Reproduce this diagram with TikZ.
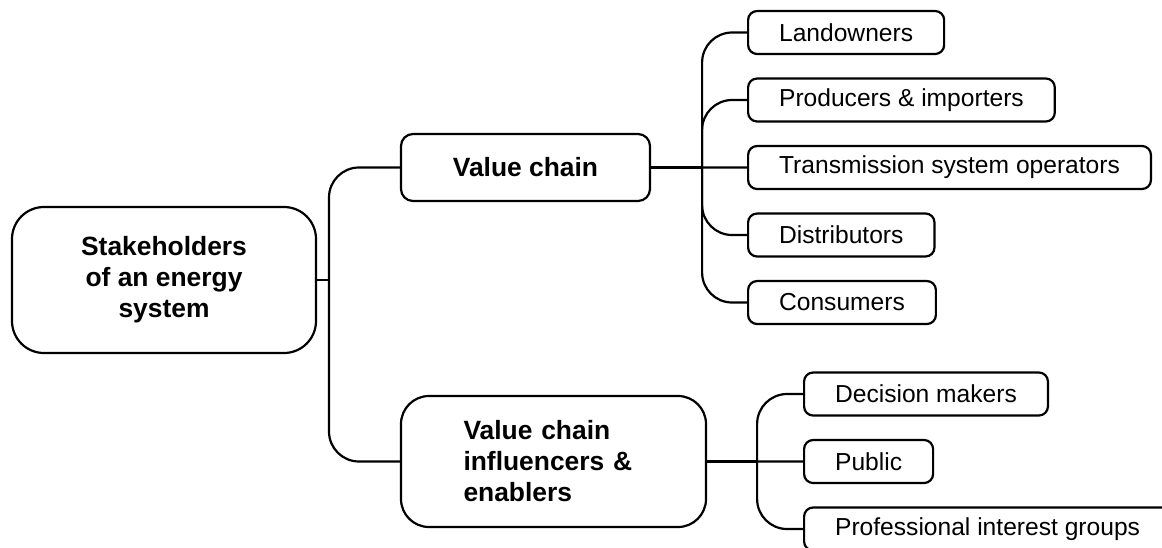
\documentclass[tikz,border=0pt]{standalone}
\usepackage{fontspec}
\setmainfont{Liberation Sans}
\usetikzlibrary{positioning}

\begin{document}
\begin{tikzpicture}[x=1pt, y=-1pt, line width=2.2pt,
    hub/.style={draw, align=center, inner sep=0pt,
      font=\bfseries\fontsize{26.4}{31}\selectfont},
    leaf/.style={draw, rounded corners=9pt, anchor=west, inner xsep=31pt,
      inner ysep=0pt, minimum height=43pt, font=\fontsize{24.6}{29}\selectfont},
    stub/.style={draw, line width=3pt},
    branch/.style={draw, rounded corners=30pt, to path={|- (\tikztotarget)}}]
		\clip (0,0) rectangle (1162,547);
		\node (root) [hub, minimum width=304pt, minimum height=146pt, rounded corners=32pt] at (164,280) {Stakeholders\\of an energy\\system};
		\node (vc) [hub, minimum width=249pt, minimum height=67pt, rounded corners=12pt] at (525.5,167.5) {Value chain};
		\node (infl) [hub, align=left, text width=180pt, minimum width=305pt, minimum height=131pt, rounded corners=28pt] at (553.5,461.5) {Value chain\\influencers \&\\enablers};
		% value chain members
		\node (land) [leaf] at (747,32.5) {Landowners};
		\node (prod) [leaf, below=22.3pt of land.south west, anchor=north west] {Producers \& importers};
		\node (tso) [leaf, below=22.3pt of prod.south west, anchor=north west] {Transmission system operators};
		\node (dist) [leaf, below=22.3pt of tso.south west, anchor=north west] {Distributors};
		\node (cons) [leaf, below=22.3pt of dist.south west, anchor=north west] {Consumers};
		% influencers and enablers
		\node (dec) [leaf] at (803,394) {Decision makers};
		\node (pub) [leaf, below=22.3pt of dec.south west, anchor=north west] {Public};
		\node (prof) [leaf, below=22.3pt of pub.south west, anchor=north west] {Professional interest groups};
		\coordinate (rootbus) at (329,280);
		\coordinate (vcbus) at ([xshift=51pt]vc.east);
		\coordinate (inflbus) at ([xshift=50pt]infl.east);
		\path
		(root.east) edge (rootbus)
		(rootbus) edge [branch] (vc.west)
		(rootbus) edge [branch] (infl.west)
		(vc.east) edge [stub] (vcbus)
		(vcbus) edge [branch] (land.west)
		(vcbus) edge [branch] (prod.west)
		(vcbus) edge (tso.west)
		(vcbus) edge [branch] (dist.west)
		(vcbus) edge [branch] (cons.west)
		(infl.east) edge [stub] (inflbus)
		(inflbus) edge [branch] (dec.west)
		(inflbus) edge (pub.west)
		(inflbus) edge [branch] (prof.west);
	\end{tikzpicture}
\end{document}
